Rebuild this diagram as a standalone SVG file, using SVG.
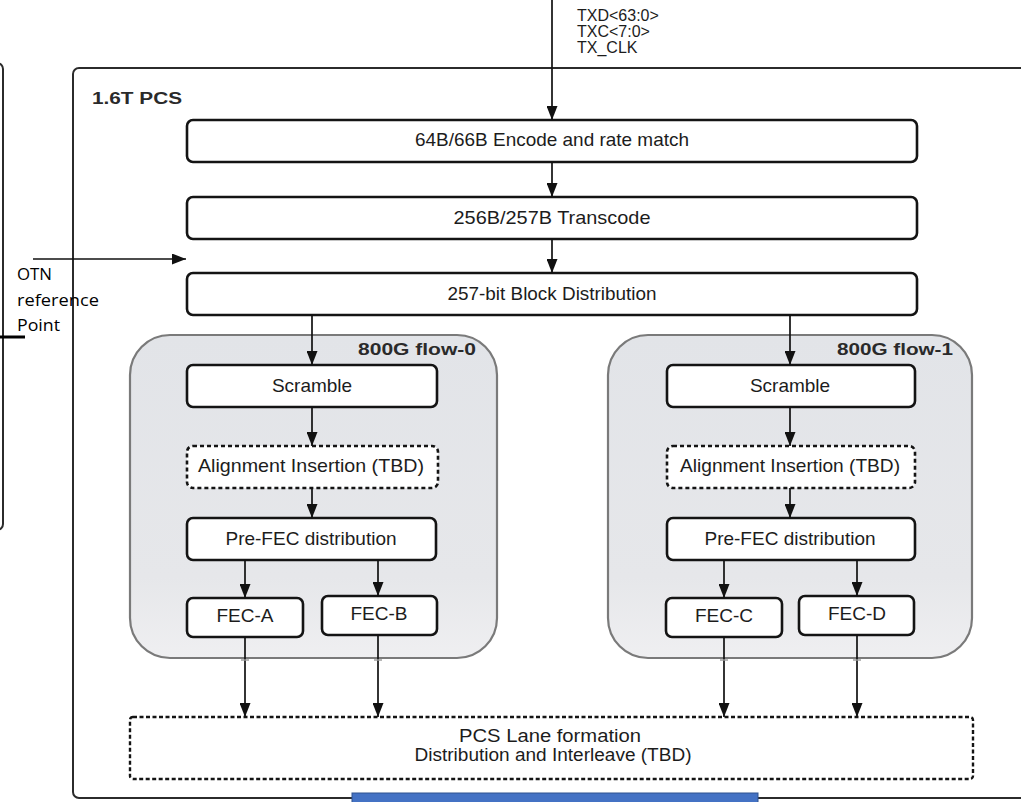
<svg xmlns="http://www.w3.org/2000/svg" width="1021" height="802" viewBox="0 0 1021 802">
  <defs>
    <style>
      .frame { fill: none; stroke: #2b2b2b; stroke-width: 2; }
      .box { fill: #ffffff; stroke: #141414; stroke-width: 2.6; }
      .dbox { fill: #ffffff; stroke: #141414; stroke-width: 2.6; stroke-dasharray: 4 3; }
      .lane { fill: #ffffff; stroke: #141414; stroke-width: 2.4; stroke-dasharray: 4 2.5; }
      .flow { fill: url(#flowFill); stroke: #7a7a7a; stroke-width: 2.2; }
      .wire { fill: none; stroke: #111111; stroke-width: 1.7; }
      .tick { fill: none; stroke: #9a9a9a; stroke-width: 1.4; }
      .lbl { font-family: "Liberation Sans", Arial, sans-serif; font-size: 19px; fill: #1c1c1c; text-anchor: middle; }
      .lane-lbl { font-family: "Liberation Sans", Arial, sans-serif; font-size: 17.5px; fill: #1c1c1c; text-anchor: middle; }
      .sig { font-family: "Liberation Sans", Arial, sans-serif; font-size: 16px; fill: #1c1c1c; }
      .ttl { font-family: "Liberation Sans", Arial, sans-serif; font-size: 16px; font-weight: bold; fill: #2a2a2a; }
      .otn { font-family: "Open Sans", "Noto Sans", sans-serif; font-size: 17px; fill: #000000; }
    </style>
    <linearGradient id="flowFill" x1="0" y1="0" x2="0" y2="1">
      <stop offset="0" stop-color="#e2e4e8"/>
      <stop offset="0.75" stop-color="#e6e7ea"/>
      <stop offset="1" stop-color="#efeff1"/>
    </linearGradient>
    <marker id="arrow" markerUnits="userSpaceOnUse" markerWidth="14" markerHeight="11" refX="14" refY="5.5" orient="auto">
      <path d="M0,0 L14,5.5 L0,11 z" fill="#111111"/>
    </marker>
  </defs>

  <rect width="1021" height="802" fill="#ffffff"/>

  <!-- neighbouring block at the left edge -->
  <g id="otn-side">
    <rect class="frame" x="-200" y="63" width="203" height="467" rx="6"/>
    <line x1="0" y1="337" x2="25" y2="337" stroke="#000" stroke-width="3"/>
  </g>

  <!-- 1.6T PCS frame -->
  <g id="pcs">
    <rect class="frame" x="73" y="68" width="960" height="730" rx="6"/>
    <text class="ttl" x="92" y="104" textLength="90" lengthAdjust="spacingAndGlyphs">1.6T PCS</text>
  </g>

  <!-- 800G flow containers -->
  <g id="flow0">
    <rect class="flow" x="130" y="335" width="367" height="323" rx="40"/>
    <text class="ttl" x="358" y="355" textLength="118" lengthAdjust="spacingAndGlyphs">800G flow-0</text>
  </g>
  <g id="flow1">
    <rect class="flow" x="608" y="335" width="364" height="323" rx="40"/>
    <text class="ttl" x="837" y="355" textLength="116" lengthAdjust="spacingAndGlyphs">800G flow-1</text>
  </g>

  <!-- shared stages -->
  <g id="encode">
    <rect class="box" x="187" y="120" width="730" height="42" rx="6"/>
    <text class="lbl" x="552" y="146" textLength="274" lengthAdjust="spacingAndGlyphs">64B/66B Encode and rate match</text>
  </g>
  <g id="transcode">
    <rect class="box" x="187" y="197" width="730" height="42" rx="6"/>
    <text class="lbl" x="552" y="224" textLength="197" lengthAdjust="spacingAndGlyphs">256B/257B Transcode</text>
  </g>
  <g id="block-dist">
    <rect class="box" x="187" y="273" width="730" height="42" rx="6"/>
    <text class="lbl" x="552" y="300" textLength="209" lengthAdjust="spacingAndGlyphs">257-bit Block Distribution</text>
  </g>

  <!-- flow-0 stages -->
  <g id="scramble0">
    <rect class="box" x="187" y="365" width="250" height="42" rx="6"/>
    <text class="lbl" x="312" y="392">Scramble</text>
  </g>
  <g id="align0">
    <rect class="dbox" x="187" y="446" width="251" height="42" rx="6"/>
    <text class="lbl" x="311" y="472" textLength="226" lengthAdjust="spacingAndGlyphs">Alignment Insertion  (TBD)</text>
  </g>
  <g id="prefec0">
    <rect class="box" x="187" y="518" width="249" height="42" rx="6"/>
    <text class="lbl" x="311" y="545">Pre-FEC distribution</text>
  </g>
  <g id="fec-a">
    <rect class="box" x="187" y="598" width="116" height="39" rx="6"/>
    <text class="lbl" x="245" y="622">FEC-A</text>
  </g>
  <g id="fec-b">
    <rect class="box" x="322" y="596" width="115" height="39" rx="6"/>
    <text class="lbl" x="379" y="620">FEC-B</text>
  </g>

  <!-- flow-1 stages -->
  <g id="scramble1">
    <rect class="box" x="667" y="365" width="248" height="42" rx="6"/>
    <text class="lbl" x="790" y="392">Scramble</text>
  </g>
  <g id="align1">
    <rect class="dbox" x="667" y="446" width="248" height="42" rx="6"/>
    <text class="lbl" x="790" y="472" textLength="220" lengthAdjust="spacingAndGlyphs">Alignment Insertion (TBD)</text>
  </g>
  <g id="prefec1">
    <rect class="box" x="667" y="518" width="248" height="42" rx="6"/>
    <text class="lbl" x="790" y="545">Pre-FEC distribution</text>
  </g>
  <g id="fec-c">
    <rect class="box" x="666" y="598" width="116" height="39" rx="6"/>
    <text class="lbl" x="724" y="622">FEC-C</text>
  </g>
  <g id="fec-d">
    <rect class="box" x="799" y="596" width="115" height="39" rx="6"/>
    <text class="lbl" x="857" y="620">FEC-D</text>
  </g>

  <!-- lane formation -->
  <g id="lane">
    <rect class="lane" x="130" y="717" width="843" height="62" rx="3"/>
    <text class="lane-lbl" x="550" y="742" textLength="182" lengthAdjust="spacingAndGlyphs">PCS Lane formation</text>
    <text class="lane-lbl" x="553" y="761" textLength="277" lengthAdjust="spacingAndGlyphs">Distribution and Interleave (TBD)</text>
  </g>

  <!-- input signals -->
  <g id="mii-labels">
    <text class="sig" x="577" y="21">TXD&lt;63:0&gt;</text>
    <text class="sig" x="577" y="37">TXC&lt;7:0&gt;</text>
    <text class="sig" x="577" y="53">TX_CLK</text>
  </g>

  <!-- OTN reference point label -->
  <g id="otn-label">
    <text class="otn" x="17" y="280" textLength="35" lengthAdjust="spacingAndGlyphs">OTN</text>
    <text class="otn" x="17" y="306" textLength="82" lengthAdjust="spacingAndGlyphs">reference</text>
    <text class="otn" x="17" y="331" textLength="43" lengthAdjust="spacingAndGlyphs">Point</text>
  </g>

  <!-- connectors -->
  <g id="connectors">
    <line class="wire" x1="552" y1="0" x2="552" y2="120" marker-end="url(#arrow)"/>
    <line class="wire" x1="552" y1="162" x2="552" y2="197" marker-end="url(#arrow)"/>
    <line class="wire" x1="552" y1="239" x2="552" y2="273" marker-end="url(#arrow)"/>
    <line class="wire" x1="33" y1="259" x2="186" y2="259" marker-end="url(#arrow)"/>

    <line class="wire" x1="312" y1="315" x2="312" y2="365" marker-end="url(#arrow)"/>
    <line class="wire" x1="312" y1="407" x2="312" y2="446" marker-end="url(#arrow)"/>
    <line class="wire" x1="312" y1="488" x2="312" y2="518" marker-end="url(#arrow)"/>
    <line class="wire" x1="245" y1="560" x2="245" y2="598" marker-end="url(#arrow)"/>
    <line class="wire" x1="378" y1="560" x2="378" y2="596" marker-end="url(#arrow)"/>

    <line class="wire" x1="790" y1="315" x2="790" y2="365" marker-end="url(#arrow)"/>
    <line class="wire" x1="790" y1="407" x2="790" y2="446" marker-end="url(#arrow)"/>
    <line class="wire" x1="790" y1="488" x2="790" y2="518" marker-end="url(#arrow)"/>
    <line class="wire" x1="724" y1="560" x2="724" y2="598" marker-end="url(#arrow)"/>
    <line class="wire" x1="857" y1="560" x2="857" y2="596" marker-end="url(#arrow)"/>

    <line class="wire" x1="245" y1="637" x2="245" y2="717" marker-end="url(#arrow)"/>
    <line class="wire" x1="378" y1="635" x2="378" y2="717" marker-end="url(#arrow)"/>
    <line class="wire" x1="724" y1="637" x2="724" y2="717" marker-end="url(#arrow)"/>
    <line class="wire" x1="857" y1="635" x2="857" y2="717" marker-end="url(#arrow)"/>

    <line class="tick" x1="241" y1="660" x2="249" y2="660"/>
    <line class="tick" x1="374" y1="660" x2="382" y2="660"/>
    <line class="tick" x1="720" y1="660" x2="728" y2="660"/>
    <line class="tick" x1="853" y1="660" x2="861" y2="660"/>
  </g>

  <!-- blue bar along the bottom edge -->
  <rect id="bottom-bar" x="352" y="793" width="406" height="12" fill="#4472c4" stroke="#2f528f" stroke-width="1"/>
</svg>
